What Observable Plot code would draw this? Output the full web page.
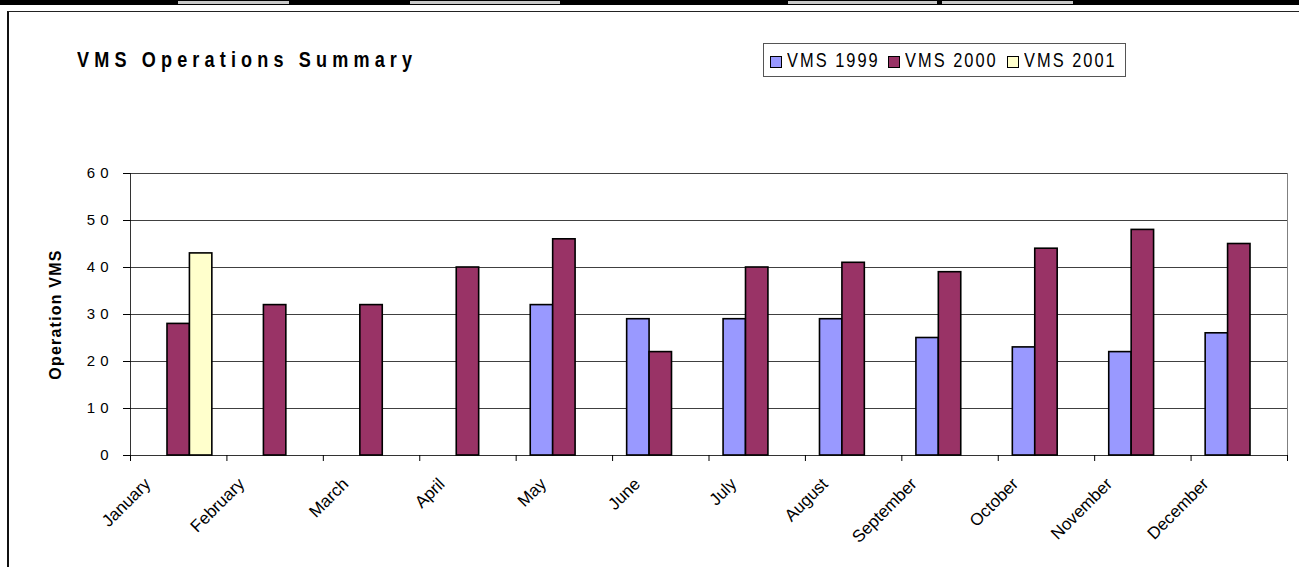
<!DOCTYPE html>
<html>
<head>
<meta charset="utf-8">
<script src="https://cdn.jsdelivr.net/npm/d3@7"></script>
<script src="https://cdn.jsdelivr.net/npm/@observablehq/plot@0.6"></script>
<style>
  html, body { margin: 0; padding: 0; background: #fff; }
  body { width: 1299px; height: 567px; overflow: hidden; position: relative;
         font-family: "Liberation Sans", Arial, sans-serif; }
  #topband { position: absolute; left: 0; top: 0; width: 1299px; height: 5px; background: #000; }
  .seg { position: absolute; top: 1px; height: 3px; background: #c8c8c8; }
  #box { position: absolute; left: 7px; top: 11px; width: 1310px; height: 600px;
         border-left: 2px solid #111; border-top: 1px solid #222; box-sizing: border-box; }
  #chart { position: absolute; left: 0; top: 0; }
  #title { position: absolute; left: 77px; top: 47px; font-weight: bold; font-size: 22px;
           letter-spacing: 6.3px; color: #000; white-space: nowrap;
           transform: scaleX(0.82); transform-origin: 0 0; }
  #legend { position: absolute; left: 763px; top: 43px; width: 363px; height: 34px; box-sizing: border-box;
            border: 1px solid #555; background: #fff; }
  .item { position: absolute; top: 0; height: 32px; display: flex; align-items: center; }
  .sw { width: 10px; height: 10px; border: 1px solid #000; margin-right: 5px; margin-top: 3px; flex: none; }
  .lab { display: inline-block; font-size: 21px; letter-spacing: 2.6px; white-space: nowrap; color: #000;
         transform: scaleX(0.78); transform-origin: 0 50%; }
</style>
</head>
<body>
<div id="topband"></div>
<div id="box"></div>
<div id="chart"></div>
<div id="title"></div>
<div id="legend"></div>
<script>
// ---- data ----
const months = ["January", "February", "March", "April", "May", "June",
                "July", "August", "September", "October", "November", "December"];
const seriesNames = ["VMS 1999", "VMS 2000", "VMS 2001"];
const vms1999 = [null, null, null, null, 32, 29, 29, 29, 25, 23, 22, 26];
const vms2000 = [28, 32, 32, 40, 46, 22, 40, 41, 39, 44, 48, 45];
const vms2001 = [43, null, null, null, null, null, null, null, null, null, null, null];
const yTicks = [0, 10, 20, 30, 40, 50, 60];
const yLabel = "Operation VMS";
const titleText = "VMS Operations Summary";
const colors = ["#9999FF", "#993366", "#FFFFCC"];

// ---- page decorations ----
const band = document.getElementById("topband");
[[178, 289], [410, 560], [788, 937], [942, 1073]].forEach(([a, b]) => {
  const s = document.createElement("div");
  s.className = "seg"; s.style.left = a + "px"; s.style.width = (b - a) + "px";
  band.appendChild(s);
});
document.getElementById("title").textContent = titleText;

const legend = document.getElementById("legend");
const itemLeft = [6, 124, 243];
seriesNames.forEach((name, i) => {
  const it = document.createElement("div");
  it.className = "item"; it.style.left = itemLeft[i] + "px";
  const sw = document.createElement("div");
  sw.className = "sw"; sw.style.background = colors[i];
  const lb = document.createElement("span");
  lb.className = "lab"; lb.textContent = name;
  it.appendChild(sw); it.appendChild(lb);
  legend.appendChild(it);
});

// ---- table for bars ----
const series = [vms1999, vms2000, vms2001];
const gapWidth = 1.3;                        // Excel-style gap width (130%)
const barW = 1 / (series.length + gapWidth); // bar width in category units
const pad = barW * gapWidth / 2;
const rows = [];
series.forEach((vals, s) => vals.forEach((v, i) => {
  if (v != null) rows.push({month: i, s, name: seriesNames[s], value: v});
}));

const boundaries = d3.range(months.length + 1);

const labelMarks = months.map((m, i) =>
  Plot.text([m], {
    x: () => i, y: () => 0, text: d => d,
    rotate: -45, textAnchor: "end", lineAnchor: "top",
    dx: 30 - 2.5 * m.length, dy: 21,
    fontSize: 17, fill: "#000"
  })
);

const chart = Plot.plot({
  width: 1299, height: 567,
  marginLeft: 130, marginRight: 12, marginTop: 173, marginBottom: 112,
  style: {background: "transparent", fontFamily: "'Liberation Sans', Arial, sans-serif", color: "#000"},
  x: {domain: [0, months.length], axis: null},
  y: {domain: [0, 60], axis: null},
  color: {domain: seriesNames, range: colors},
  marks: [
    Plot.ruleY(yTicks.filter(d => d > 0), {stroke: "#000", strokeWidth: 1, strokeOpacity: 0.75}),
    Plot.ruleX([months.length], {y1: 0, y2: 60, stroke: "#808080", strokeWidth: 1}),
    Plot.rectY(rows, {
      x1: d => d.month + pad + d.s * barW,
      x2: d => d.month + pad + (d.s + 1) * barW,
      y1: 0, y2: "value",
      fill: "name", stroke: "#000", strokeWidth: 1.6
    }),
    Plot.ruleX([0], {y1: 0, y2: 60, stroke: "#000", strokeOpacity: 0.8}),
    Plot.ruleY([0], {stroke: "#000", strokeOpacity: 0.8}),
    Plot.axisY({ticks: yTicks, tickSize: 7, tickFormat: () => "", label: null, stroke: "#000"}),
    Plot.text(yTicks, {y: d => d, frameAnchor: "left", text: d => String(d), dx: -17,
                       textAnchor: "end", lineAnchor: "middle", fontSize: 15, fill: "#000"}),
    Plot.axisX({ticks: boundaries, tickSize: 6, tickFormat: () => "", label: null, stroke: "#000"}),
    ...labelMarks,
    Plot.text([yLabel], {frameAnchor: "left", text: d => d, rotate: -90, dx: -75,
                         textAnchor: "middle", lineAnchor: "middle",
                         fontSize: 16, fontWeight: "bold", fill: "#000"})
  ]
});
document.getElementById("chart").appendChild(chart);

// letter spacing on the y tick labels and axis title (as in the reference rendering)
const svg = d3.select(chart);
svg.selectAll("text").each(function() {
  const t = d3.select(this).text();
  if (yTicks.map(String).includes(t)) d3.select(this).attr("letter-spacing", "5px");
  if (t === yLabel) d3.select(this).attr("letter-spacing", "1.2px");
});
</script>
</body>
</html>
